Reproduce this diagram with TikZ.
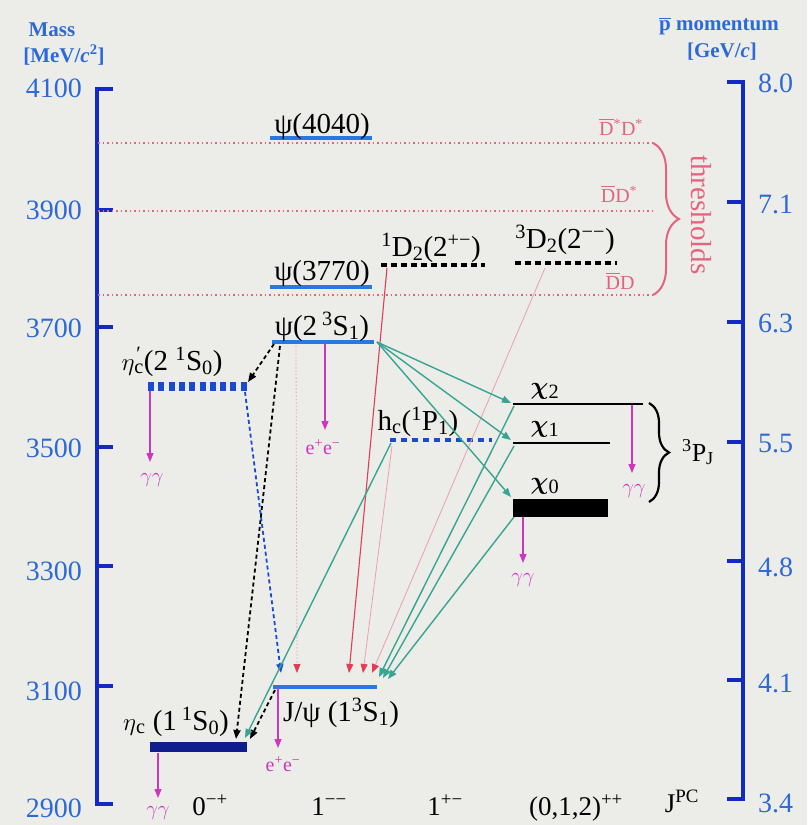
\documentclass[tikz,border=0pt]{standalone}
\usepackage{fontspec}
\setmainfont{Liberation Serif}
\usetikzlibrary{arrows.meta,decorations.pathreplacing}
\definecolor{bgc}{RGB}{236,236,233}
\definecolor{axisblue}{RGB}{20,40,195}
\definecolor{ticklab}{RGB}{45,105,215}
\definecolor{lvlblue}{RGB}{40,120,228}
\definecolor{navyc}{RGB}{15,30,140}
\definecolor{dblue}{RGB}{25,75,210}
\definecolor{magc}{RGB}{205,55,190}
\definecolor{thr}{RGB}{228,100,125}
\definecolor{tealc}{RGB}{55,165,145}
\definecolor{redl}{RGB}{228,60,85}
\definecolor{pinkl}{RGB}{235,160,170}
\newcommand\fs[1]{\fontsize{#1}{#1}\selectfont}
\newcommand\up[1]{\textsuperscript{#1}}
\newcommand\dn[1]{\textsubscript{#1}}
\newcommand\bigchi{{\fs{36}$\boldsymbol{\chi}$}}
\usepackage{amsmath}
\tikzset{
  axisline/.style={line width=4pt, color=axisblue},
  lvl/.style={line width=3.5pt, color=lvlblue},
  blk/.style={line width=2.5pt, color=black},
  dashblack/.style={line width=3.5pt, color=black, dash pattern=on 6pt off 4pt},
  lab/.style={font=\fs{29}, inner sep=0pt, anchor=base},
  tickl/.style={font=\fs{28}, text=ticklab, inner sep=0pt},
  hdr/.style={font=\fs{21}\bfseries, text=ticklab, inner sep=0pt},
  thrlab/.style={font=\fs{20}, text=thr, inner sep=0pt},
  declab/.style={font=\fs{20}, text=magc, inner sep=0pt},
  jpclab/.style={font=\fs{27}, inner sep=0pt, anchor=base},
  tip/.style={-{Triangle[length=9pt,width=7pt]}},
  decay/.style={tip, line width=1.3pt, color=magc},
  thrline/.style={line width=1.3pt, color=thr, dash pattern=on 1.5pt off 3pt},
  dk/.style={tip, line width=1.8pt, color=black, dash pattern=on 4pt off 3pt},
  db/.style={tip, line width=1.8pt, color=dblue, dash pattern=on 4pt off 3pt},
  tl/.style={tip, line width=1.4pt, color=tealc},
  rd/.style={tip, line width=1.1pt, color=redl},
  pk/.style={-{Triangle[length=9pt,width=7pt,fill=redl,color=redl]}, line width=0.8pt, color=pinkl},
}
\begin{document}
\begin{tikzpicture}[x=1pt,y=-1pt]
\fill[bgc] (0,0) rectangle (807,825);
\useasboundingbox (0,0) rectangle (807,825);

% ---------- axes ----------
\draw[axisline] (113,89) -- (97,89) -- (97,804) -- (113,804);
\foreach \y in {210,327,447,566,686} \draw[axisline] (97,\y) -- (113,\y);
\foreach \v/\y in {4100/88,3900/210,3700/328,3500/448,3300/571,3100/691,2900/808}
  \node[tickl, anchor=east] (m\v) at (82,\y) {\v};
\draw[axisline] (727,82) -- (743,82) -- (743,799) -- (727,799);
\foreach \y in {202,322,442,561,680} \draw[axisline] (727,\y) -- (743,\y);
\foreach \i/\v/\y in {1/8.0/83,2/7.1/204,3/6.3/323,4/5.5/444,5/4.8/567,6/4.1/683,7/3.4/803}
  \node[tickl, anchor=west] (p\i) at (758,\y) {\v};
\node[hdr] (massA) at (52,30) {Mass};
\node[hdr] (massB) at (64,55) {[MeV/\textit{c}\up{2}]};
\node[hdr] (momA) at (719,26) {$\overline{\mbox{p}}$ momentum};
\node[hdr] (momB) at (722,52) {[GeV/\textit{c}]};

% ---------- thresholds ----------
\coordinate (t1a) at (98,143);  \coordinate (t1b) at (653,143);
\coordinate (t2a) at (98,211);  \coordinate (t2b) at (653,211);
\coordinate (t3a) at (98,295);  \coordinate (t3b) at (653,295);
\draw[thrline] (t1a) -- (t1b);
\draw[thrline] (t2a) -- (t2b);
\draw[thrline] (t3a) -- (t3b);
\node[thrlab] (th1) at (621,127) {$\overline{\mbox{D}}$\up{*}D\up{*}};
\node[thrlab] (th2) at (619,194) {$\overline{\mbox{D}}$D\up{*}};
\node[thrlab] (th3) at (620,281) {$\overline{\mbox{D}}$D};
\draw[thr, line width=2pt, decorate, decoration={brace, amplitude=26pt}] (t1b) -- (t3b);
\node[font=\fs{29}, text=thr, rotate=-90, inner sep=0pt] (thlab) at (701,215) {thresholds};

% ---------- levels ----------
\coordinate (p4L) at (270,138); \coordinate (p4R) at (372,138);
\draw[lvl] (p4L) -- (p4R);
\node[lab] (p4lab) at (322,133) {ψ(4040)};

\coordinate (p3L) at (270,287); \coordinate (p3R) at (372,287);
\draw[lvl] (p3L) -- (p3R);
\node[lab] (p3lab) at (322,280) {ψ(3770)};

\coordinate (d1L) at (381,265); \coordinate (d1R) at (485,265);
\draw[dashblack] (d1L) -- (d1R);
\node[lab] (d1lab) at (431,256) {\up{1}D\dn{2}(2\up{+−})};

\coordinate (d3L) at (515,263); \coordinate (d3R) at (617,263);
\draw[dashblack] (d3L) -- (d3R);
\node[lab] (d3lab) at (565,248) {\up{3}D\dn{2}(2\up{−−})};

\coordinate (psL) at (272,342); \coordinate (psR) at (374,342);
\draw[lvl] (psL) -- (psR);
\node[lab] (pslab) at (322,335) {ψ(2\,\up{3}S\dn{1})};

\coordinate (epL) at (148,386); \coordinate (epR) at (249,386);
\draw[line width=9pt, color=dblue, dash pattern=on 6pt off 4.3pt] (epL) -- (epR);
\node[lab] (eplab) at (172,370) {$\eta$\rlap{\up{\kern2pt′}}\dn{c}(2 \up{1}S\dn{0})};

\coordinate (hcL) at (390,440); \coordinate (hcR) at (492,440);
\draw[line width=3.5pt, color=dblue, dash pattern=on 6pt off 5pt] (hcL) -- (hcR);
\node[lab] (hclab) at (418,430) {h\dn{c}(\up{1}P\dn{1})};

\coordinate (c2L) at (513,404); \coordinate (c2R) at (643,404);
\draw[blk] (c2L) -- (c2R);
\node[lab] (c2lab) at (545,394) {\bigchi\dn{2}};
\coordinate (c1L) at (513,443); \coordinate (c1R) at (610,443);
\draw[blk, line width=2pt] (c1L) -- (c1R);
\node[lab] (c1lab) at (545,432) {\bigchi\dn{1}};
\coordinate (c0L) at (513,499); \coordinate (c0R) at (608,517);
\fill[black] (c0L) rectangle (c0R);
\node[lab] (c0lab) at (545,489) {\bigchi\dn{0}};

\draw[black, line width=2.2pt, decorate, decoration={brace, amplitude=20pt}] (649,403) -- (649,502);
\node[font=\fs{26}, inner sep=0pt, anchor=base] (pj) at (698,461) {\up{3}P\dn{J}};

\coordinate (jpL) at (273,687); \coordinate (jpR) at (377,687);
\draw[lvl] (jpL) -- (jpR);
\node[lab] (jplab) at (341,721) {J/ψ (1\up{3}S\dn{1})};

\coordinate (ecL) at (150,742); \coordinate (ecR) at (247,752);
\fill[navyc] (ecL) rectangle (ecR);
\node[lab] (eclab) at (176,730) {$\eta$\dn{c} (1\,\up{1}S\dn{0})};

% ---------- decays ----------
\coordinate (g1a) at (158,753); \coordinate (g1b) at (158,798);
\draw[decay] (g1a) -- (g1b);
\node[declab] (g1) at (158,813) {$\gamma\gamma$};
\coordinate (e1a) at (278,688); \coordinate (e1b) at (278,748);
\draw[decay] (e1a) -- (e1b);
\node[declab] (e1) at (283,764) {e\up{+}e\up{−}};
\coordinate (g2a) at (150,391); \coordinate (g2b) at (150,462);
\draw[decay] (g2a) -- (g2b);
\node[declab] (g2) at (152,480) {$\gamma\gamma$};
\coordinate (e2a) at (325,343); \coordinate (e2b) at (325,430);
\draw[decay] (e2a) -- (e2b);
\node[declab] (e2) at (323,447) {e\up{+}e\up{−}};
\coordinate (g3a) at (632,405); \coordinate (g3b) at (632,473);
\draw[decay] (g3a) -- (g3b);
\node[declab] (g3) at (634,491) {$\gamma\gamma$};
\coordinate (g4a) at (523,517); \coordinate (g4b) at (523,563);
\draw[decay] (g4a) -- (g4b);
\node[declab] (g4) at (523,580) {$\gamma\gamma$};

% ---------- transitions ----------
\coordinate (a1) at (274,344); \coordinate (a1t) at (248,382);
\draw[dk] (a1) -- (a1t);
\coordinate (a2) at (280,346); \coordinate (a2t) at (236,739);
\draw[dk] (a2) -- (a2t);
\coordinate (a3) at (275,690); \coordinate (a3t) at (250,739);
\draw[dk] (a3) -- (a3t);
\coordinate (b1) at (245,392); \coordinate (b1t) at (281,673);
\draw[db] (b1) -- (b1t);

\coordinate (r1) at (296,346); \coordinate (r1t) at (297,673);
\draw[pk, dash pattern=on 1.5pt off 2pt] (r1) -- (r1t);
\coordinate (r2) at (387,268); \coordinate (r2t) at (349,673);
\draw[rd] (r2) -- (r2t);
\coordinate (r3) at (392,446); \coordinate (r3t) at (363,673);
\draw[pk] (r3) -- (r3t);
\coordinate (r4) at (545,268); \coordinate (r4t) at (372,673);
\draw[pk] (r4) -- (r4t);

\coordinate (s0) at (377,342);
\coordinate (s2) at (511,403); \coordinate (s1) at (511,440); \coordinate (s00) at (511,497);
\draw[tl] (s0) -- (s2);
\draw[tl] (s0) -- (s1);
\draw[tl] (s0) -- (s00);
\coordinate (u2) at (514,406); \coordinate (u1) at (514,446); \coordinate (u0) at (514,517);
\coordinate (v2) at (379,677); \coordinate (v1) at (383,678); \coordinate (v0) at (388,679);
\draw[tl] (u2) -- (v2);
\draw[tl] (u1) -- (v1);
\draw[tl] (u0) -- (v0);
\coordinate (h0) at (391,443); \coordinate (h0t) at (245,738);
\draw[tl] (h0) -- (h0t);

% ---------- J^PC row ----------
\node[jpclab] (q1) at (210,815) {0\up{−+}};
\node[jpclab] (q2) at (329,815) {1\up{−−}};
\node[jpclab] (q3) at (445,815) {1\up{+−}};
\node[jpclab] (q4) at (576,815) {(0,1,2)\up{++}};
\node[jpclab] (q5) at (682,812) {J\up{PC}};
\end{tikzpicture}
\end{document}
